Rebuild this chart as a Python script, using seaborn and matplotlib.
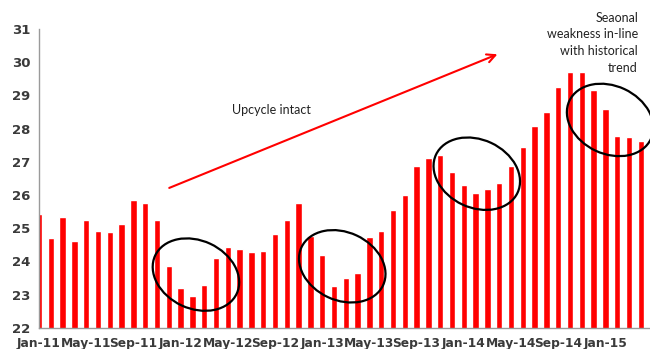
import pandas as pd
import matplotlib.pyplot as plt
import matplotlib.transforms as mtransforms
from matplotlib.patches import Ellipse
import seaborn as sns

months = pd.date_range("2011-01-01", "2015-04-01", freq="MS").strftime("%b-%y").tolist()
values = [25.43, 24.70, 25.34, 24.62, 25.25, 24.92, 24.89, 25.12, 25.84, 25.77,
          25.25, 23.85, 23.19, 22.96, 23.30, 24.09, 24.43, 24.37, 24.29, 24.32,
          24.81, 25.25, 25.76, 24.77, 24.18, 23.27, 23.51, 23.65, 24.72, 24.90,
          25.56, 26.01, 26.88, 27.12, 27.21, 26.68, 26.29, 26.07, 26.17, 26.37,
          26.88, 27.43, 28.09, 28.49, 29.26, 29.71, 29.71, 29.16, 28.58, 27.78,
          27.75, 27.63]
df = pd.DataFrame({"month": months, "value": values})

# ellipse centres (month index, value) marking the seasonal dips
circles = [(13.3, 23.60), (25.7, 23.85), (37.1, 26.64), (48.4, 28.26)]

sns.set_style("white")
fig = plt.figure(figsize=(6.5, 3.49), dpi=100)
ax = fig.add_axes([39 / 650, 21.3 / 349, 611 / 650, 298.7 / 349])

sns.barplot(data=df, x="month", y="value", color="#FF0000", saturation=1,
            width=0.53, ax=ax)

ax.set_xlim(0, 51.78)
ax.set_ylim(22, 31)
ax.set_yticks(range(22, 32))
ax.set_xticks(range(0, len(months), 4))
ax.set_xticklabels(months[::4])
ax.set_xlabel("")
ax.set_ylabel("")

for s in ["top", "right"]:
    ax.spines[s].set_visible(False)
for s in ["left", "bottom"]:
    ax.spines[s].set_color("#9a9a9a")
    ax.spines[s].set_linewidth(1)
ax.tick_params(axis="both", length=4, width=1, color="#9a9a9a",
               labelcolor="#3a3a3a", labelsize=9.5, pad=2)
ax.tick_params(axis="x", labelsize=8.8, pad=3)
for lbl in ax.get_xticklabels() + ax.get_yticklabels():
    lbl.set_fontweight("bold")

ax.annotate("", xy=(39.07, 30.27), xytext=(10.82, 26.18),
            arrowprops=dict(arrowstyle="->", color="#FF0000", lw=1.5,
                            mutation_scale=15))
ax.text(19.7, 28.55, "Upcycle intact", fontsize=9, family="Lato",
        color="#222222", ha="center", va="center")
fig.text(638 / 650, 1 - 12 / 349, "Seaonal\nweakness in-line\nwith historical\ntrend",
         fontsize=9, family="Lato", color="#222222", ha="right", va="top",
         linespacing=1.45)

for cx, cy in circles:
    tr = fig.dpi_scale_trans + mtransforms.ScaledTranslation(cx, cy, ax.transData)
    ax.add_patch(Ellipse((0, 0), 0.90, 0.68, angle=-25, transform=tr,
                         fill=False, edgecolor="black", lw=1.6, clip_on=False))

fig.savefig("out.png", dpi=100)
